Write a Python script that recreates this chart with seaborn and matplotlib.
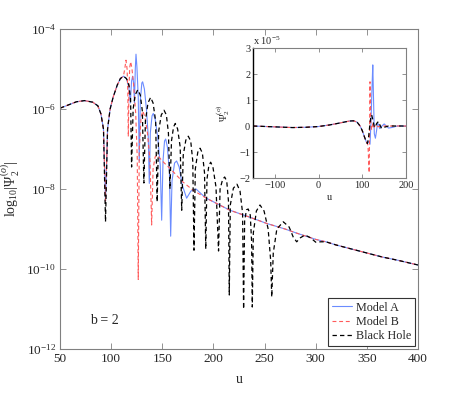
import numpy as np
import pandas as pd
import seaborn as sns
import matplotlib
matplotlib.use("Agg")
import matplotlib.pyplot as plt
from matplotlib.ticker import FixedLocator, NullLocator, LogFormatterMathtext

# ---------------- data ----------------
# common early part, log10|Psi|
u_early = [50, 58, 66, 74, 82, 87, 90, 92.5, 94.5, 96.5, 99, 102, 106, 109, 112]
lg_early = [-5.98, -5.9, -5.82, -5.79, -5.83, -5.92, -6.12, -6.5, -8.3, -6.5,
            -6.0, -5.7, -5.4, -5.24, -5.18]
lg_early_bh = [-5.98, -5.9, -5.82, -5.79, -5.83, -5.92, -6.12, -6.5, -8.82, -6.5,
               -6.0, -5.7, -5.4, -5.24, -5.18]

# common late tail
u_tail = [193, 200, 216, 235, 252, 270, 281, 300, 310, 320, 335, 350, 365, 380, 400]
lg_tail = [-8.23, -8.32, -8.53, -8.7, -8.86, -9.0, -9.1, -9.26, -9.32, -9.4,
           -9.5, -9.6, -9.7, -9.78, -9.9]

# Model A (middle part)
u_a = [115, 117.3, 118.7, 120, 121, 122, 122.8, 123.6, 124.3, 125.2, 126.5, 127.5,
       128.5, 130, 130.8, 132.5, 134.5, 136.3, 137.3, 138.3, 140, 141.2, 143, 145.5,
       148, 149.4, 150.7, 152.2, 153.3, 155, 157, 158.2, 159.5, 162, 164, 166.5,
       169.5, 173.8, 178, 183, 188]
lg_a = [-5.24, -5.45, -5.85, -5.3, -5.18, -5.35, -5.85, -5.0, -4.63, -4.95, -5.7, -7.3,
        -5.8, -5.35, -5.32, -5.5, -6.0, -6.7, -7.86, -6.6, -6.17, -6.11, -6.25, -6.7,
        -7.4, -8.78, -7.3, -6.8, -6.75, -6.95, -7.6, -9.18, -7.8, -7.35, -7.3, -7.45,
        -7.9, -8.23, -8.05, -8.0, -8.12]

# Model B (middle part)
u_b = [113.3, 114.5, 115.6, 116.3, 116.8, 117.4, 118.2, 119.1, 120.3, 122, 124, 125.5,
       126.5, 127.5, 129.3, 131, 133, 135.5, 138, 139.6, 141, 143, 145, 150, 160,
       170, 180]
lg_b = [-5.0, -4.78, -5.0, -5.6, -6.69, -5.5, -4.95, -4.82, -4.98, -5.4, -6.1, -7.2,
        -10.26, -7.0, -6.2, -6.05, -6.2, -6.6, -7.3, -8.9, -7.5, -7.2, -7.15, -7.3,
        -7.55, -7.82, -8.03]

# Black hole (middle part, until it joins the tail)
u_bh = [115, 117.5, 119, 120, 121.5, 123.5, 126, 128.5, 130.5, 132, 133.5, 136, 138.6,
        141, 143.5, 145, 146.5, 149, 151.7, 154, 156, 157.5, 159, 161, 162.7, 165,
        167.5, 169, 170.5, 173, 175.4, 177.8, 179.8, 181, 182.3, 184.7, 186.9, 189.2,
        191.3, 192.5, 193.7, 195.5, 197.3, 199.5, 202.5, 205, 206.5, 209, 211, 213,
        214.7, 215.5, 216.5, 219.5, 223, 226, 228.5, 229.5, 230.5, 232.3, 234, 236,
        237.3, 238, 239, 242, 245.5, 249.5, 253.5, 256, 257, 258.5, 262, 268.3, 274,
        278, 281.4, 285, 289.5, 295, 300, 305]
lg_bh = [-5.24, -5.42, -5.75, -7.45, -6.0, -5.65, -5.52, -5.65, -6.05, -7.85, -6.3,
         -5.85, -5.71, -5.85, -6.3, -8.32, -6.55, -6.15, -6.03, -6.15, -6.6, -8.0,
         -6.8, -6.45, -6.36, -6.5, -6.95, -8.53, -7.15, -6.78, -6.68, -6.8, -7.3,
         -9.53, -7.5, -7.08, -6.98, -7.1, -7.6, -9.5, -7.75, -7.42, -7.33, -7.45,
         -7.95, -9.55, -8.0, -7.76, -7.7, -7.8, -8.3, -10.65, -8.4, -7.98, -7.88,
         -8.05, -8.6, -11.0, -8.8, -8.52, -8.5, -8.65, -9.3, -10.95, -9.1, -8.55,
         -8.4, -8.55, -9.0, -9.8, -10.7, -9.6, -9.0, -8.82, -8.95, -9.2, -9.32,
         -9.22, -9.15, -9.22, -9.33, -9.32]
u_tail_bh = [310, 320, 335, 350, 365, 380, 400]
lg_tail_bh = [-9.32, -9.4, -9.5, -9.6, -9.7, -9.78, -9.9]

# inset: Psi (units of 1e-5)
ui_early = [-150, -120, -90, -60, -30, 0, 25, 50, 70, 80, 88, 95, 100, 105, 109, 111.5]
vi_early = [0.0, -0.02, -0.04, -0.06, -0.05, -0.02, 0.04, 0.12, 0.19, 0.2, 0.15, 0.0,
            -0.18, -0.42, -0.6, -0.67]
ui_a = [114.5, 117.7, 120, 122.5, 124, 125.5, 127.5, 130, 132.5, 135, 137.5, 140, 145,
        150, 160, 170, 180, 200]
vi_a = [-0.6, -0.7, 0.2, 1.6, 2.35, 1.2, -0.3, -0.47, -0.2, 0.1, 0.05, -0.1, 0.0, 0.08,
        -0.08, -0.05, 0.0, 0.0]
ui_b = [113, 115.8, 117.6, 119.5, 121.5, 124, 127, 131, 136, 145, 200]
vi_b = [-0.75, -1.8, 1.7, 0.1, -0.15, 0.1, -0.05, 0.06, -0.03, 0.0, 0.0]
ui_bh = [114, 117, 119.5, 121.5, 124, 127, 129.5, 133, 136.8, 140, 144, 150, 160, 200]
vi_bh = [-0.5, 0.0, 0.35, 0.42, 0.25, 0.0, -0.05, 0.1, 0.17, 0.05, -0.09, -0.05, 0.0, 0.0]

labels = ["Model A", "Model B", "Black Hole"]
colors = ["#6b8cff", "#ff5a5a", "#000000"]

# ---------------- style ----------------
sns.set_style("ticks")
plt.rcParams["font.family"] = ["Liberation Serif", "DejaVu Serif"]
plt.rcParams["mathtext.fontset"] = "custom"
plt.rcParams["mathtext.rm"] = "Liberation Serif"
plt.rcParams["mathtext.it"] = "Liberation Serif:italic"
plt.rcParams["mathtext.bf"] = "Liberation Serif:bold"
plt.rcParams["xtick.direction"] = "in"
plt.rcParams["ytick.direction"] = "in"

fig = plt.figure(figsize=(4.63, 3.94), dpi=100)
ax = fig.add_axes([60 / 463, 45 / 394, 358 / 463, 320 / 394])

series = [
    (u_early + u_a + u_tail, lg_early + lg_a + lg_tail),
    (u_early + u_b + u_tail, lg_early + lg_b + lg_tail),
    (u_early + u_bh + u_tail_bh, lg_early_bh + lg_bh + lg_tail_bh),
]
styles = [("-", None, 0.8), ("--", (3.5, 2.5), 0.8), ("--", (3.5, 2.5), 0.9)]
for (uu, ll), lab, col, (ls, dsh, lw) in zip(series, labels, colors, styles):
    df = pd.DataFrame({"u": uu, "psi": np.power(10.0, ll)})
    sns.lineplot(data=df, x="u", y="psi", ax=ax, color=col, linewidth=lw,
                 linestyle=ls, label=lab, estimator=None, sort=False, legend=False)
    if dsh is not None:
        ax.lines[-1].set_dashes(dsh)

ax.set_yscale("log")
ax.set_xlim(50, 400)
ax.set_ylim(1e-12, 1e-4)
ax.xaxis.set_major_locator(FixedLocator([50, 100, 150, 200, 250, 300, 350, 400]))
ax.yaxis.set_major_locator(FixedLocator([1e-12, 1e-10, 1e-8, 1e-6, 1e-4]))
ax.yaxis.set_minor_locator(NullLocator())
ax.yaxis.set_major_formatter(LogFormatterMathtext())
ax.tick_params(axis="both", which="both", top=True, right=True, direction="in",
               length=4, width=0.6, color="#808080", labelsize=9.5, pad=3)
for sp in ax.spines.values():
    sp.set_color("#808080")
    sp.set_linewidth(0.8)
ax.set_xlabel("u", fontsize=10)
ax.set_ylabel(r"log$_{10}$|$\Psi_2^{(o)}$|", fontsize=10)
ax.xaxis.set_label_coords(0.5, -0.075)
ax.yaxis.set_label_coords(-0.105, 0.5)
ax.text(79.3, 10 ** -11.28, "b = 2", fontsize=10, ha="left", va="center")

handles = ax.lines[:3]
leg = ax.legend(handles, labels, loc="lower right", fontsize=8.7, frameon=True,
                fancybox=False, edgecolor="#333333", framealpha=1,
                handlelength=1.7, handletextpad=0.3, borderpad=0.3,
                labelspacing=0.2, borderaxespad=0.25)
leg.get_frame().set_linewidth(0.8)

# ---------------- inset ----------------
axi = fig.add_axes([253 / 463, (394 - 178) / 394, 153 / 463, 130 / 394])
iseries = [
    (ui_early + ui_a, vi_early + vi_a),
    (ui_early + ui_b, vi_early + vi_b),
    (ui_early + ui_bh, vi_early + vi_bh),
]
for (uu, vv), lab, col, (ls, dsh, lw) in zip(iseries, labels, colors, styles):
    df = pd.DataFrame({"u": uu, "psi": vv})
    sns.lineplot(data=df, x="u", y="psi", ax=axi, color=col, linewidth=lw,
                 linestyle=ls, estimator=None, sort=False, legend=False)
    if dsh is not None:
        axi.lines[-1].set_dashes(dsh)
axi.set_xlim(-150, 200)
axi.set_ylim(-2, 3)
axi.xaxis.set_major_locator(FixedLocator([-100, 0, 100, 200]))
axi.yaxis.set_major_locator(FixedLocator([-2, -1, 0, 1, 2, 3]))
axi.tick_params(axis="both", top=True, right=True, direction="in", length=3,
                width=0.6, color="#808080", labelsize=7.5, pad=2)
for sp in axi.spines.values():
    sp.set_color("#808080")
    sp.set_linewidth(0.8)
axi.spines["left"].set_color("#000000")
axi.spines["left"].set_linewidth(1.0)
axi.set_xlabel("u", fontsize=7.5)
axi.set_ylabel(r"$\Psi_2^{(o)}$", fontsize=7.5)
axi.xaxis.set_label_coords(0.5, -0.115)
axi.yaxis.set_label_coords(-0.14, 0.5)
axi.text(0.0, 1.01, r"x 10$^{-5}$", transform=axi.transAxes, fontsize=7.5,
         ha="left", va="bottom")

fig.savefig("out.png", dpi=100)
